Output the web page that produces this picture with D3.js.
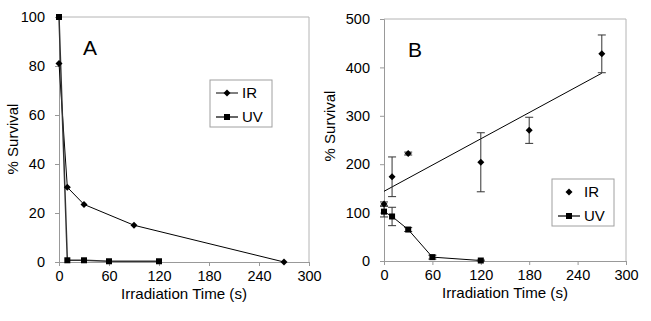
<!DOCTYPE html>
<html>
<head>
<meta charset="utf-8">
<script src="https://cdn.jsdelivr.net/npm/d3@7"></script>
<style>
  body { margin: 0; background: #fff; }
  text { font-family: Arial, "Liberation Sans", sans-serif; fill: #000; }
</style>
</head>
<body>
<svg id="chart" width="651" height="321"></svg>
<script>
// panel A
const timeIrA = [0, 10, 30, 90, 270]
const survIrA = [81, 30.5, 23.5, 15, 0]
const timeUvA = [0, 10, 30, 60, 120]
const survUvA = [100, 0.7, 0.7, 0.3, 0.3]

// panel B
const timeIrB = [0, 10, 30, 120, 180, 270]
const survIrB = [118, 174, 222, 204, 270, 428]
const errIrB = [4, 41, 3, 61, 27, 39]
const timeUvB = [0, 10, 30, 60, 120]
const survUvB = [102, 92, 65, 8, 1]
const errUvB = [11, 19, 4, 4, 1]
const fitB = [144, 388] // trend line at t=0 and t=270

const xTicks = [0, 60, 120, 180, 240, 300]
const yTicksA = [0, 20, 40, 60, 80, 100]
const yTicksB = [0, 100, 200, 300, 400, 500]

const svg = d3.select('#chart')

function drawPanel (opt) {
    const x = d3.scaleLinear().domain([0, 300]).range([opt.left, opt.right])
    const y = d3.scaleLinear().domain([0, opt.ymax]).range([opt.bottom, opt.top])
    const g = svg.append('g')

    // plot area border (top / right)
    g.append('path')
        .attr('d', `M ${opt.left} ${opt.top} H ${opt.right} V ${opt.bottom}`)
        .attr('fill', 'none')
        .attr('stroke', '#b4b4b4')

    const xAxis = g.append('g')
        .attr('transform', `translate(0, ${opt.bottom})`)
        .call(d3.axisBottom(x).tickValues(xTicks).tickSize(4).tickPadding(5))
    const yAxis = g.append('g')
        .attr('transform', `translate(${opt.left}, 0)`)
        .call(d3.axisLeft(y).tickValues(opt.yTicks).tickSize(4).tickPadding(10))
    for (const ax of [xAxis, yAxis]) {
        ax.select('.domain').attr('stroke', '#999')
        ax.selectAll('.tick line').attr('stroke', '#999')
        ax.selectAll('.tick text').style('font-size', '14.5px').attr('fill', '#000')
    }

    g.append('text')
        .attr('x', (opt.left + opt.right) / 2)
        .attr('y', opt.bottom + 37)
        .attr('text-anchor', 'middle')
        .style('font-size', '15px')
        .attr('textLength', 126)
        .attr('lengthAdjust', 'spacingAndGlyphs')
        .text('Irradiation Time (s)')

    g.append('text')
        .attr('transform', `translate(${opt.titleX}, ${opt.titleY}) rotate(-90)`)
        .attr('text-anchor', 'middle')
        .style('font-size', '15px')
        .text('% Survival')

    g.append('text')
        .attr('x', opt.left + 24)
        .attr('y', opt.top + 38)
        .style('font-size', '21px')
        .text(opt.label)

    return { g, x, y }
}

function diamond (g, cx, cy, r, fill) {
    g.append('path')
        .attr('d', `M ${cx} ${cy - r} L ${cx + r} ${cy} L ${cx} ${cy + r} L ${cx - r} ${cy} Z`)
        .attr('fill', fill || '#000')
}

function square (g, cx, cy, s) {
    g.append('rect')
        .attr('x', cx - s / 2).attr('y', cy - s / 2)
        .attr('width', s).attr('height', s)
        .attr('fill', '#000')
}

function legend (g, lx, ly, w, h, irLine) {
    g.append('rect')
        .attr('x', lx).attr('y', ly).attr('width', w).attr('height', h)
        .attr('fill', '#fff').attr('stroke', '#a0a0a0')
    const rows = [{ name: 'IR', dy: 13, line: irLine }, { name: 'UV', dy: 37, line: true }]
    rows.forEach(r => {
        const cy = ly + r.dy
        if (r.line) {
            g.append('line')
                .attr('x1', lx + 6).attr('x2', lx + 28)
                .attr('y1', cy).attr('y2', cy)
                .attr('stroke', r.name === 'UV' ? '#333' : '#000')
                .attr('stroke-width', r.name === 'UV' ? 1.5 : 1)
        }
        if (r.name === 'IR') diamond(g, lx + 17, cy, 3.5)
        else square(g, lx + 17, cy, 6)
        g.append('text')
            .attr('x', lx + 32).attr('y', cy + 5)
            .style('font-size', '15px')
            .text(r.name)
    })
}

// ---- panel A ----
const A = drawPanel({
    left: 59, right: 309, top: 17, bottom: 262, ymax: 100,
    yTicks: yTicksA, label: 'A', titleX: 18, titleY: 139
})
const lineA = d3.line().x(d => A.x(d[0])).y(d => A.y(d[1]))
A.g.append('path')
    .attr('d', lineA(d3.zip(timeIrA, survIrA)))
    .attr('fill', 'none').attr('stroke', '#000')
A.g.append('path')
    .attr('d', lineA(d3.zip(timeUvA, survUvA)))
    .attr('fill', 'none').attr('stroke', '#333').attr('stroke-width', 1.5)
timeIrA.forEach((t, i) => diamond(A.g, A.x(t), A.y(survIrA[i]), 3.5))
timeUvA.forEach((t, i) => square(A.g, A.x(t), A.y(survUvA[i]), 6))
legend(A.g, 210, 80, 62, 47, true)

// ---- panel B ----
const B = drawPanel({
    left: 384, right: 626, top: 19, bottom: 261, ymax: 500,
    yTicks: yTicksB, label: 'B', titleX: 335, titleY: 126
})
const lineB = d3.line().x(d => B.x(d[0])).y(d => B.y(d[1]))

function errorBars (g, xs, ys, es, color) {
    xs.forEach((t, i) => {
        const cx = B.x(t)
        const y1 = B.y(ys[i] + es[i])
        const y2 = B.y(ys[i] - es[i])
        g.append('path')
            .attr('d', `M ${cx} ${y1} V ${y2} M ${cx - 4} ${y1} H ${cx + 4} M ${cx - 4} ${y2} H ${cx + 4}`)
            .attr('fill', 'none').attr('stroke', color)
    })
}

B.g.append('path')
    .attr('d', lineB([[0, fitB[0]], [270, fitB[1]]]))
    .attr('fill', 'none').attr('stroke', '#000')
B.g.append('path')
    .attr('d', lineB(d3.zip(timeUvB, survUvB)))
    .attr('fill', 'none').attr('stroke', '#000')
errorBars(B.g, timeIrB, survIrB, errIrB, '#333')
errorBars(B.g, timeUvB, survUvB, errUvB, '#333')
timeIrB.forEach((t, i) => diamond(B.g, B.x(t), B.y(survIrB[i]), 3.5))
timeUvB.forEach((t, i) => square(B.g, B.x(t), B.y(survUvB[i]), 6))
legend(B.g, 552, 179, 62, 47, false)
</script>
</body>
</html>
